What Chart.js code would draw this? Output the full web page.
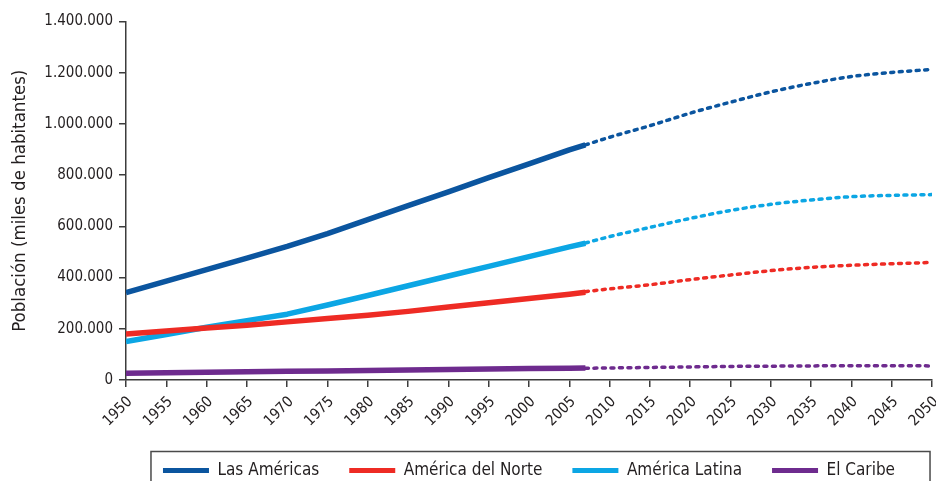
<!DOCTYPE html>
<html>
<head>
<meta charset="utf-8">
<script src="https://cdn.jsdelivr.net/npm/chart.js@4.4.1/dist/chart.umd.min.js"></script>
<style>
  html, body { margin: 0; padding: 0; background: #ffffff; }
  #wrap { width: 936px; height: 481px; position: relative; }
</style>
</head>
<body>
<div id="wrap"><canvas id="c" width="936" height="481"></canvas></div>
<script>
// ---- data ----
const histYears = [1950, 1955, 1960, 1965, 1970, 1975, 1980, 1985, 1990, 1995, 2000, 2005, 2007];
const projYears = [2007, 2010, 2015, 2020, 2025, 2030, 2035, 2040, 2045, 2050];

const seriesNames = ["Las Américas", "América del Norte", "América Latina", "El Caribe"];

const americasHist = [341000, 386000, 431000, 476000, 522000, 572000, 626000, 681000, 735000, 790000, 844000, 899000, 918000];
const americasProj = [918000, 948000, 993000, 1042000, 1085000, 1125000, 1158000, 1185000, 1201000, 1213000];

const norteHist = [180000, 191000, 203000, 214000, 227000, 240000, 253000, 268000, 285000, 302000, 318000, 335000, 343000];
const norteProj = [345000, 356000, 372000, 392000, 410000, 427000, 440000, 448000, 454000, 459000];

const latinaHist = [150000, 178000, 206000, 232000, 257000, 293000, 330000, 368000, 406000, 444000, 482000, 520000, 534000];
const latinaProj = [535000, 560000, 596000, 631000, 662000, 686000, 703000, 716000, 721000, 724000];

const caribeHist = [26000, 28000, 30000, 32000, 34000, 35000, 37000, 39000, 41000, 43000, 45000, 46000, 47000];
const caribeProj = [46000, 47000, 49000, 51000, 53000, 54000, 55000, 56000, 56000, 55000];

const yTicks = [0, 200000, 400000, 600000, 800000, 1000000, 1200000, 1400000];
const xTickStep = 5;
const yTitle = "Población (miles de habitantes)";

// ---- styles ----
const colors = ["#0b559f", "#ee2b24", "#0ca6e4", "#6e2b8e"];
const FONT = "'Liberation Sans Narrow', 'DejaVu Sans Condensed', 'Arial Narrow', sans-serif";
const TEXT = "#231f20";
const AXIS = "#3c3c3c";

function pts(xs, ys) { return xs.map((x, i) => ({ x: x, y: ys[i] })); }
function fmtDots(v) { return String(Math.round(v)).replace(/\B(?=(\d{3})+(?!\d))/g, "."); }

const histSets = [americasHist, norteHist, latinaHist, caribeHist];
const projSets = [americasProj, norteProj, latinaProj, caribeProj];

const datasets = [];
projSets.forEach((vals, i) => {
  datasets.push({
    label: seriesNames[i] + " (proyección)",
    isProj: true,
    data: pts(projYears, vals),
    borderColor: colors[i],
    backgroundColor: colors[i],
    borderWidth: 3.5,
    borderDash: [3, 5.5],
    borderCapStyle: "round",
    pointRadius: 0,
    cubicInterpolationMode: "monotone",
    fill: false,
    order: 2
  });
});
histSets.forEach((vals, i) => {
  datasets.push({
    label: seriesNames[i],
    isProj: false,
    data: pts(histYears, vals),
    borderColor: colors[i],
    backgroundColor: colors[i],
    borderWidth: 5.5,
    borderCapStyle: "butt",
    borderJoinStyle: "round",
    pointRadius: 0,
    tension: 0,
    fill: false,
    order: 1
  });
});

const legendFrame = {
  id: "legendFrame",
  afterDraw(chart) {
    const lg = chart.legend;
    if (!lg || !lg.legendHitBoxes || !lg.legendHitBoxes.length) return;
    const hb = lg.legendHitBoxes;
    const first = hb[0], last = hb[hb.length - 1];
    const cy = first.top + first.height / 2;
    const ctx = chart.ctx;
    ctx.save();
    ctx.strokeStyle = "#4a4a4a";
    ctx.lineWidth = 1.5;
    const l = first.left - 12, r = last.left + last.width + 35;
    ctx.strokeRect(l, cy - 19, r - l, 60);
    ctx.restore();
  }
};

new Chart(document.getElementById("c"), {
  type: "line",
  data: { datasets: datasets },
  plugins: [legendFrame],
  options: {
    responsive: false,
    animation: false,
    layout: { padding: { top: 21.5, right: 4, bottom: -8, left: 0 } },
    plugins: {
      tooltip: { enabled: false },
      title: { display: false },
      legend: {
        position: "bottom",
        align: "center",
        fullSize: false,
        labels: {
          color: TEXT,
          font: { family: FONT, size: 17 },
          boxWidth: 46,
          boxHeight: 5,
          padding: 30,
          filter: (item, data) => !data.datasets[item.datasetIndex].isProj,
          generateLabels: (chart) => chart.data.datasets.map((ds, i) => ({
            text: ds.label,
            fillStyle: ds.borderColor,
            strokeStyle: ds.borderColor,
            lineWidth: 0,
            hidden: false,
            datasetIndex: i,
            fontColor: TEXT
          }))
        }
      }
    },
    scales: {
      x: {
        type: "linear",
        min: histYears[0],
        max: projYears[projYears.length - 1],
        afterFit: (s) => { s.height = 52; s.paddingLeft = 0; s.paddingRight = 0; },
        border: { display: true, color: AXIS, width: 1.5 },
        grid: { display: true, drawOnChartArea: false, drawTicks: true, tickLength: 7, color: AXIS, lineWidth: 1.5 },
        ticks: {
          stepSize: xTickStep,
          autoSkip: false,
          maxRotation: 45,
          minRotation: 45,
          padding: 6,
          labelOffset: 4,
          color: TEXT,
          font: { family: FONT, size: 15 },
          callback: (v) => String(v)
        }
      },
      y: {
        min: yTicks[0],
        max: yTicks[yTicks.length - 1],
        afterFit: (s) => { s.width = 126; s.paddingTop = 0; s.paddingBottom = 0; },
        afterBuildTicks: (s) => { s.ticks = yTicks.map(v => ({ value: v })); },
        border: { display: true, color: AXIS, width: 1.5 },
        grid: { display: true, drawOnChartArea: false, drawTicks: true, tickLength: 7, color: AXIS, lineWidth: 1.5 },
        title: {
          display: true,
          text: yTitle,
          color: TEXT,
          font: { family: FONT, size: 18.5 },
          padding: { top: 9, bottom: 0 }
        },
        ticks: {
          padding: 6,
          color: TEXT,
          font: { family: FONT, size: 15 },
          callback: (v) => fmtDots(v)
        }
      }
    }
  }
});
</script>
</body>
</html>
